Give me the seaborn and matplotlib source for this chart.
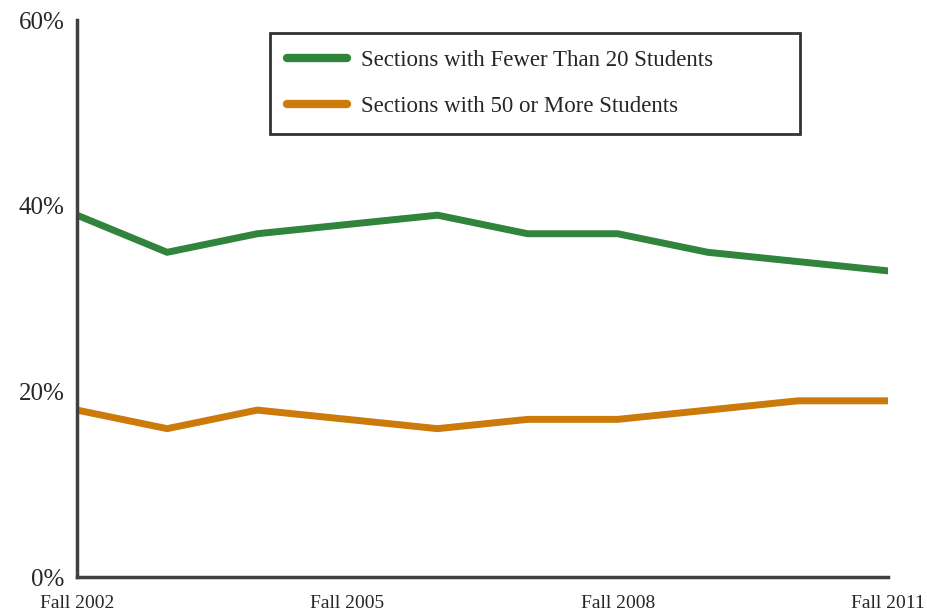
import pandas as pd
import matplotlib
matplotlib.use('Agg')
import matplotlib.pyplot as plt
import matplotlib.ticker as ticker
import seaborn as sns

# ==========================================
# Data
# ==========================================
terms = ['Fall 2002', 'Fall 2003', 'Fall 2004', 'Fall 2005', 'Fall 2006',
         'Fall 2007', 'Fall 2008', 'Fall 2009', 'Fall 2010', 'Fall 2011']
small_sections = [39, 35, 37, 38, 39, 37, 37, 35, 34, 33]
large_sections = [18, 16, 18, 17, 16, 17, 17, 18, 19, 19]
series_names = ['Sections with Fewer Than 20 Students',
                'Sections with 50 or More Students']
shown_ticks = ['Fall 2002', 'Fall 2005', 'Fall 2008', 'Fall 2011']

df = pd.DataFrame({
    'Pos': list(range(len(terms))) * 2,
    'Share': small_sections + large_sections,
    'Series': [series_names[0]] * len(terms) + [series_names[1]] * len(terms),
})

sns.set_theme(style='white')
plt.rcParams['font.family'] = ['Liberation Serif', 'DejaVu Serif']

fig = plt.figure(figsize=(9.28, 6.14), dpi=100)
ax = fig.add_axes([0.083, 0.060, 0.874, 0.907])

palette = {series_names[0]: '#31843b', series_names[1]: '#cc7a0a'}
sns.lineplot(data=df, x='Pos', y='Share', hue='Series', palette=palette,
             linewidth=5, ax=ax, errorbar=None)

ax.set_xlim(0, len(terms) - 1)
ax.set_ylim(0, 60)
ax.yaxis.set_major_locator(ticker.MultipleLocator(20))
ax.yaxis.set_major_formatter(ticker.FuncFormatter(lambda v, p: f'{int(v)}%'))
ax.set_xticks([terms.index(t) for t in shown_ticks])
ax.set_xticklabels(shown_ticks, fontsize=14)
ax.tick_params(axis='y', labelsize=18, length=0, pad=9)
ax.tick_params(axis='x', length=0, pad=13)
ax.set_xlabel('')
ax.set_ylabel('')

for side in ['top', 'right']:
    ax.spines[side].set_visible(False)
for side in ['left', 'bottom']:
    ax.spines[side].set_color('#404040')
    ax.spines[side].set_linewidth(2.5)

# legend box spans roughly x 270-800 px, y 32-128 px in the reference
leg = ax.legend(title=None, loc='upper left', mode='expand',
                bbox_to_anchor=(0.238, 0.806, 0.653, 0.172),
                fontsize=16.5, frameon=True, fancybox=False, handlelength=2.6,
                borderpad=0.75, labelspacing=1.1, handletextpad=0.6,
                borderaxespad=0)
leg.get_frame().set_edgecolor('black')
leg.get_frame().set_linewidth(2)
for h in leg.get_lines():
    h.set_linewidth(6)
    h.set_solid_capstyle('round')

plt.savefig('out.png', dpi=100)
